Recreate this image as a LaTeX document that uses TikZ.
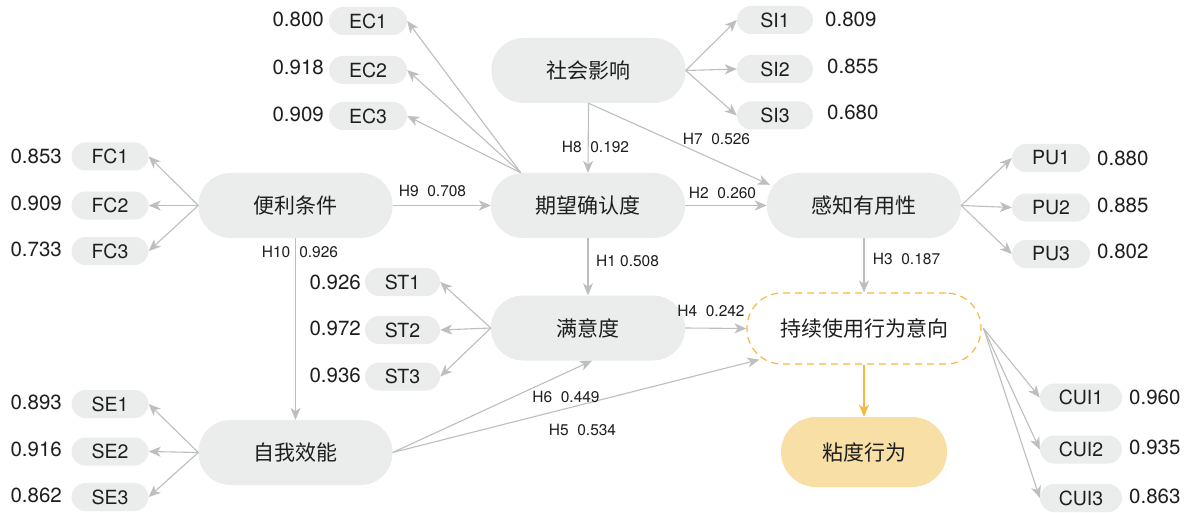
\documentclass[tikz,border=0pt]{standalone}
\usepackage{fontspec}
\setmainfont{TeX Gyre Heros}
\newfontfamily\cjk{Noto Sans CJK SC}
\usetikzlibrary{arrows.meta,calc}
\definecolor{nodegray}{HTML}{EBECEC}
\definecolor{arrgray}{HTML}{BEBEBE}
\definecolor{txt}{HTML}{1E1E1E}
\definecolor{orangeline}{HTML}{F5B942}
\definecolor{orangefill}{HTML}{F8DFA6}
\tikzset{
  mainbox/.style={rectangle, rounded corners=32pt, fill=nodegray, minimum width=194pt, minimum height=65pt, inner sep=0pt, text=txt, font=\cjk\fontsize{21}{21}\selectfont},
  indbox/.style={rectangle, rounded corners=14pt, fill=nodegray, minimum width=78pt, minimum height=28pt, inner sep=0pt, text=txt, font=\fontsize{19.5}{19.5}\selectfont},
  valtext/.style={inner sep=0pt, text=txt, font=\fontsize{20.5}{20.5}\selectfont},
  hlab/.style={inner sep=0pt, text=txt, font=\fontsize{15.5}{15.5}\selectfont},
  conn/.style={draw=arrgray, line width=1.1pt, -{Stealth[length=12pt,width=10pt,inset=3.5pt]}},
  oconn/.style={draw=orangeline, line width=1.2pt, -{Stealth[length=12pt,width=10pt,inset=3.5pt]}}
}
\begin{document}
\begin{tikzpicture}[x=1pt,y=-1pt]
\useasboundingbox (0,0) rectangle (1190,513);
\fill[white] (0,0) rectangle (1190,513);

% main constructs
\node[mainbox] (si) at (588.5,70.5) {社会影响};
\node[mainbox] (fc) at (295.5,205.5) {便利条件};
\node[mainbox] (ec) at (588,205.5) {期望确认度};
\node[mainbox] (pu) at (864,205.5) {感知有用性};
\node[mainbox] (st) at (588,328) {满意度};
\node[mainbox] (se) at (295.5,452.5) {自我效能};
\node[mainbox, fill=white, draw=orangeline, line width=1.2pt, dash pattern=on 7pt off 5pt, minimum width=234pt, minimum height=71pt, rounded corners=35pt] (cui) at (864,328.5) {持续使用行为意向};
\node[mainbox, fill=orangefill, minimum width=166pt, minimum height=70pt, rounded corners=35pt] (sb) at (864,452) {粘度行为};

% indicators: EC
\node[indbox] (ec1) at (368,21) {EC1};
\node[indbox] (ec2) at (368,70) {EC2};
\node[indbox] (ec3) at (368,116) {EC3};
\node[valtext, anchor=east] (vec1) at (324,19.5) {0.800};
\node[valtext, anchor=east] (vec2) at (324,67.5) {0.918};
\node[valtext, anchor=east] (vec3) at (324,114) {0.909};
% SI
\node[indbox, minimum width=76pt] (si1) at (775,20) {SI1};
\node[indbox, minimum width=76pt] (si2) at (775,69) {SI2};
\node[indbox, minimum width=76pt] (si3) at (775,115.5) {SI3};
\node[valtext, anchor=west] (vsi1) at (825,19.5) {0.809};
\node[valtext, anchor=west] (vsi2) at (827,66.5) {0.855};
\node[valtext, anchor=west] (vsi3) at (827,112) {0.680};
% FC
\node[indbox, minimum width=77pt] (fc1) at (110,156.5) {FC1};
\node[indbox, minimum width=77pt] (fc2) at (110,205.5) {FC2};
\node[indbox, minimum width=77pt] (fc3) at (110,251) {FC3};
\node[valtext, anchor=east] (vfc1) at (62,156.5) {0.853};
\node[valtext, anchor=east] (vfc2) at (62,203.5) {0.909};
\node[valtext, anchor=east] (vfc3) at (62,249) {0.733};
% SE
\node[indbox, minimum width=77pt] (se1) at (110,404) {SE1};
\node[indbox, minimum width=77pt] (se2) at (110,451.5) {SE2};
\node[indbox, minimum width=77pt] (se3) at (110,497) {SE3};
\node[valtext, anchor=east] (vse1) at (62,402.5) {0.893};
\node[valtext, anchor=east] (vse2) at (62,449.5) {0.916};
\node[valtext, anchor=east] (vse3) at (62,495) {0.862};
% ST
\node[indbox, minimum width=75pt] (st1) at (402.5,282) {ST1};
\node[indbox, minimum width=75pt] (st2) at (402.5,330) {ST2};
\node[indbox, minimum width=75pt] (st3) at (402.5,376.5) {ST3};
\node[valtext, anchor=east] (vst1) at (361,282) {0.926};
\node[valtext, anchor=east] (vst2) at (361,328.5) {0.972};
\node[valtext, anchor=east] (vst3) at (361,375) {0.936};
% PU
\node[indbox] (pu1) at (1051,158) {PU1};
\node[indbox] (pu2) at (1051,207.5) {PU2};
\node[indbox] (pu3) at (1051,254) {PU3};
\node[valtext, anchor=west] (vpu1) at (1097,158.5) {0.880};
\node[valtext, anchor=west] (vpu2) at (1097,205) {0.885};
\node[valtext, anchor=west] (vpu3) at (1097,251.5) {0.802};
% CUI
\node[indbox, minimum width=82pt] (cu1) at (1081,397.5) {CUI1};
\node[indbox, minimum width=82pt] (cu2) at (1081,449.5) {CUI2};
\node[indbox, minimum width=82pt] (cu3) at (1081,498) {CUI3};
\node[valtext, anchor=west] (vcu1) at (1129,397.5) {0.960};
\node[valtext, anchor=west] (vcu2) at (1129,447.5) {0.935};
\node[valtext, anchor=west] (vcu3) at (1129,496) {0.863};

% helper coordinates
\coordinate (ectop) at ($(ec.north west)+(30,0)$);
\coordinate (puin) at ($(pu.north west)+(3,12)$);
\coordinate (stin) at ($(st.south)+(4,0)$);
\coordinate (cuiin) at ($(cui.south west)+(13,-5)$);
\coordinate (cuiout) at ($(cui.east)+(2,0)$);

% measurement arrows
\draw[conn] (ectop) -- (ec1.east);
\draw[conn] (ectop) -- (ec2.east);
\draw[conn] (ectop) -- (ec3.east);
\draw[conn] (si.east) -- (si1.west);
\draw[conn] (si.east) -- (si2.west);
\draw[conn] (si.east) -- (si3.west);
\draw[conn] (fc.west) -- (fc1.east);
\draw[conn] (fc.west) -- (fc2.east);
\draw[conn] (fc.west) -- (fc3.east);
\draw[conn] (se.west) -- (se1.east);
\draw[conn] (se.west) -- (se2.east);
\draw[conn] (se.west) -- (se3.east);
\draw[conn] (st.west) -- (st1.east);
\draw[conn] (st.west) -- (st2.east);
\draw[conn] (st.west) -- (st3.east);
\draw[conn] (pu.east) -- (pu1.west);
\draw[conn] (pu.east) -- (pu2.west);
\draw[conn] (pu.east) -- (pu3.west);
\draw[conn] (cuiout) -- (cu1.west);
\draw[conn] (cuiout) -- (cu2.west);
\draw[conn] (cuiout) -- (cu3.west);

% structural paths
\draw[conn] (si.south) -- (ec.north);
\draw[conn] (si.south) -- (puin);
\draw[conn] (fc.east) -- (ec.west);
\draw[conn] (fc.south) -- (se.north);
\draw[conn] (ec.east) -- (pu.west);
\draw[conn] (ec.south) -- (st.north);
\draw[conn] (pu.south) -- (cui.north);
\draw[conn] (st.east) -- (cui.west);
\draw[conn] (se.east) -- (stin);
\draw[conn] (se.east) -- (cuiin);
\draw[oconn] (cui.south) -- (sb.north);

% path labels
\node[hlab] (h8) at (595.5,147) {H8\ \ 0.192};
\node[hlab] (h7) at (716.5,138.5) {H7\ \ 0.526};
\node[hlab] (h9) at (432.5,191) {H9\ \ 0.708};
\node[hlab] (h10) at (300,252) {H10\hspace{9pt}0.926};
\node[hlab] (h2) at (722.5,193) {H2\ \ 0.260};
\node[hlab] (h1) at (627.5,261) {H1 0.508};
\node[hlab] (h3) at (906.5,259) {H3\ \ 0.187};
\node[hlab] (h4) at (711,311) {H4\ \ 0.242};
\node[hlab] (h6) at (566,397) {H6\ \ 0.449};
\node[hlab] (h5) at (582.5,430) {H5\ \ 0.534};
\end{tikzpicture}
\end{document}
